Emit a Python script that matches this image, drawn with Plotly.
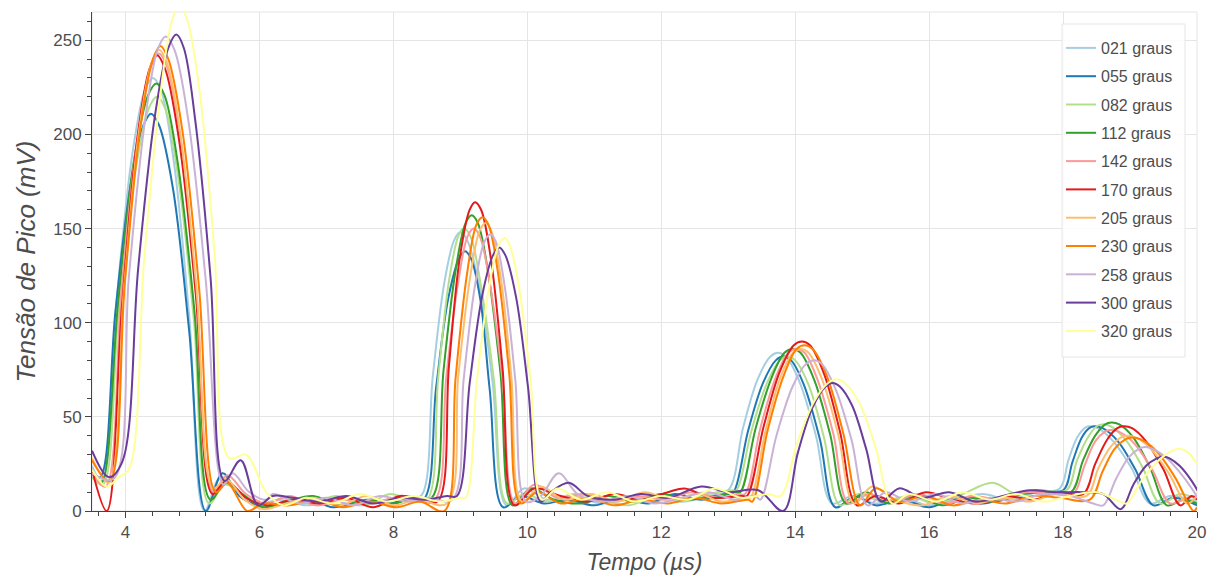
import plotly.graph_objects as go

# Peak voltage vs time, one trace per receiver angle
t_021 = [3.5, 3.64, 3.87, 4.10, 4.295, 4.41, 4.525, 4.72, 4.95, 5.18, 5.42, 5.7, 6.0, 6.3, 6.7, 7.1, 7.5, 7.9, 8.2,
         8.41, 8.59, 8.76, 8.91, 9.0, 9.10, 9.28, 9.48, 9.69, 9.95, 10.3, 10.7, 11.1, 11.5, 11.9, 12.3, 12.7,
         13.0, 13.22, 13.44, 13.63, 13.74, 13.86, 14.06, 14.31, 14.55, 14.85, 15.2, 15.6, 16.0, 16.4, 16.8, 17.2, 17.6,
         17.95, 18.08, 18.21, 18.32, 18.38, 18.52, 18.75, 19.02, 19.3, 19.6, 20.0]
v_021 = [24, 16, 113, 189, 224, 230, 224, 186, 104, 0, 18, 10, 4, 6, 3, 5, 3, 6, 8,
         8, 72, 121, 144, 148, 144, 120, 69, 3, 12, 6, 8, 4, 6, 8, 5, 8,
         11, 44, 70, 82, 84, 82, 69, 40, 4, 8, 4, 7, 3, 6, 9, 6, 10,
         12, 27, 39, 44, 45, 44, 37, 23, 4, 8, 5]

t_055 = [3.5, 3.62, 3.85, 4.08, 4.27, 4.38, 4.50, 4.71, 4.95, 5.2, 5.45, 5.7, 6.0, 6.3, 6.7, 7.1, 7.5, 7.9, 8.2,
         8.45, 8.64, 8.82, 8.98, 9.07, 9.16, 9.30, 9.44, 9.64, 9.9, 10.25, 10.6, 11.0, 11.4, 11.8, 12.2, 12.6, 13.0,
         13.08, 13.30, 13.52, 13.71, 13.82, 13.94, 14.13, 14.37, 14.6, 14.9, 15.2, 15.6, 16.0, 16.4, 16.8, 17.2, 17.6,
         18.0, 18.14, 18.28, 18.39, 18.46, 18.59, 18.82, 19.08, 19.35, 19.65, 20.0]
v_055 = [20, 18, 106, 174, 205, 211, 205, 171, 96, 0, 20, 8, 3, 4, 7, 2, 5, 4, 6,
         6, 66, 113, 134, 138, 134, 112, 64, 2, 8, 4, 6, 3, 7, 4, 9, 6, 9,
         10, 43, 68, 80, 82, 80, 67, 38, 2, 8, 3, 6, 2, 7, 4, 8, 11,
         11, 26, 39, 44, 45, 44, 37, 22, 3, 7, 3]

t_082 = [3.5, 3.66, 3.90, 4.15, 4.35, 4.47, 4.59, 4.78, 5.02, 5.25, 5.48, 5.75, 6.05, 6.35, 6.75, 7.15, 7.55, 7.95, 8.25,
         8.5, 8.67, 8.83, 8.97, 9.05, 9.15, 9.31, 9.5, 9.7, 9.95, 10.3, 10.7, 11.1, 11.5, 11.9, 12.3, 12.7, 13.05,
         13.12, 13.35, 13.58, 13.77, 13.88, 14.0, 14.20, 14.43, 14.67, 14.95, 15.3, 15.7, 16.1, 16.5, 16.95, 17.3, 17.65,
         18.05, 18.21, 18.37, 18.5, 18.58, 18.71, 18.93, 19.19, 19.45, 19.75, 20.0]
v_082 = [18, 14, 108, 181, 214, 220, 214, 179, 102, 4, 14, 9, 3, 7, 4, 8, 3, 9, 6,
         6, 71, 122, 146, 150, 146, 119, 70, 4, 9, 5, 9, 6, 3, 7, 5, 9, 11,
         11, 43, 68, 80, 82, 80, 67, 39, 3, 9, 5, 8, 4, 9, 15, 9, 11,
         11, 27, 39, 45, 46, 45, 38, 23, 4, 9, 6]

t_112 = [3.5, 3.64, 3.89, 4.13, 4.34, 4.46, 4.58, 4.78, 5.03, 5.27, 5.5, 5.78, 6.05, 6.4, 6.8, 7.2, 7.6, 8.0, 8.3,
         8.57, 8.75, 8.93, 9.08, 9.17, 9.26, 9.41, 9.6, 9.78, 10.05, 10.4, 10.8, 11.2, 11.6, 12.0, 12.4, 12.8, 13.1,
         13.18, 13.41, 13.65, 13.84, 13.96, 14.08, 14.28, 14.52, 14.76, 15.05, 15.4, 15.8, 16.2, 16.6, 17.0, 17.4, 17.8,
         18.12, 18.30, 18.48, 18.63, 18.72, 18.84, 19.05, 19.30, 19.55, 19.8, 20.0]
v_112 = [22, 15, 111, 187, 221, 227, 221, 185, 106, 6, 15, 8, 2, 5, 8, 3, 6, 4, 7,
         7, 75, 128, 153, 157, 153, 128, 73, 3, 12, 6, 4, 8, 5, 9, 6, 8, 10,
         10, 44, 71, 84, 86, 84, 70, 41, 4, 10, 4, 8, 3, 7, 5, 9, 10,
         10, 27, 40, 46, 47, 46, 39, 23, 3, 6, 4]

t_142 = [3.5, 3.7, 3.94, 4.18, 4.38, 4.5, 4.62, 4.82, 5.06, 5.31, 5.52, 5.8, 6.1, 6.45, 6.85, 7.25, 7.65, 8.05, 8.35,
         8.62, 8.79, 8.97, 9.11, 9.2, 9.29, 9.45, 9.63, 9.82, 10.1, 10.45, 10.85, 11.25, 11.65, 12.05, 12.45, 12.85, 13.15,
         13.25, 13.48, 13.71, 13.9, 14.02, 14.14, 14.33, 14.57, 14.8, 15.1, 15.45, 15.85, 16.25, 16.65, 17.05, 17.45, 17.85,
         18.15, 18.32, 18.48, 18.62, 18.7, 18.84, 19.06, 19.33, 19.6, 19.85, 20.0]
v_142 = [20, 13, 117, 199, 236, 243, 236, 198, 116, 10, 19, 9, 4, 8, 3, 6, 4, 7, 5,
         6, 71, 122, 146, 150, 146, 119, 70, 4, 14, 7, 9, 5, 8, 6, 10, 7, 9,
         9, 44, 71, 84, 86, 84, 70, 41, 4, 9, 5, 9, 4, 8, 6, 10, 9,
         9, 24, 37, 42, 43, 42, 36, 22, 4, 7, 8]

t_170 = [3.5, 3.72, 3.95, 4.17, 4.36, 4.47, 4.59, 4.80, 5.05, 5.3, 5.5, 5.8, 6.1, 6.5, 6.9, 7.3, 7.7, 8.1, 8.4,
         8.66, 8.83, 8.99, 9.14, 9.22, 9.31, 9.46, 9.63, 9.81, 10.1, 10.5, 10.9, 11.3, 11.7, 12.1, 12.35, 12.75, 13.2,
         13.28, 13.53, 13.77, 13.98, 14.1, 14.22, 14.43, 14.67, 14.92, 15.2, 15.55, 15.95, 16.35, 16.75, 17.15, 17.55, 17.95,
         18.3, 18.48, 18.66, 18.81, 18.9, 19.03, 19.24, 19.5, 19.75, 19.92, 20.0]
v_170 = [22, 0, 110, 196, 235, 242, 235, 197, 115, 9, 16, 7, 3, 6, 4, 7, 2, 8, 6,
         5, 77, 134, 160, 164, 160, 133, 76, 3, 12, 8, 5, 9, 6, 10, 12, 7, 8,
         8, 45, 74, 88, 90, 88, 73, 42, 3, 8, 4, 10, 6, 4, 8, 6, 10,
         9, 25, 38, 44, 45, 44, 37, 22, 3, 8, 6]

t_205 = [3.5, 3.75, 3.98, 4.2, 4.39, 4.5, 4.62, 4.82, 5.06, 5.31, 5.5, 5.78, 6.05, 6.4, 6.8, 7.2, 7.6, 8.0, 8.35,
         8.8, 8.97, 9.15, 9.29, 9.38, 9.46, 9.6, 9.76, 9.92, 10.2, 10.55, 10.95, 11.35, 11.75, 12.15, 12.55, 12.9, 13.25,
         13.33, 13.56, 13.78, 13.97, 14.08, 14.2, 14.40, 14.64, 14.88, 15.15, 15.5, 15.9, 16.3, 16.7, 17.1, 17.5, 17.9,
         18.35, 18.53, 18.71, 18.86, 18.95, 19.09, 19.31, 19.58, 19.85, 20.0]
v_205 = [28, 15, 119, 201, 238, 245, 238, 200, 118, 12, 17, 6, 1, 4, 7, 3, 8, 3, 6,
         4, 72, 125, 149, 153, 149, 125, 72, 5, 13, 6, 9, 5, 10, 6, 9, 5, 7,
         7, 43, 71, 84, 86, 84, 70, 41, 4, 13, 6, 3, 8, 4, 7, 5, 9,
         8, 23, 34, 39, 40, 39, 33, 20, 4, 8]

t_230 = [3.5, 3.76, 3.99, 4.22, 4.41, 4.52, 4.64, 4.85, 5.1, 5.35, 5.52, 5.82, 6.05, 6.45, 6.85, 7.25, 7.65, 8.05, 8.4,
         8.76, 8.93, 9.1, 9.24, 9.33, 9.42, 9.56, 9.73, 9.9, 10.15, 10.5, 10.9, 11.3, 11.7, 12.1, 12.5, 12.9, 13.3,
         13.36, 13.59, 13.83, 14.02, 14.14, 14.26, 14.47, 14.72, 14.97, 15.2, 15.55, 15.95, 16.35, 16.75, 17.15, 17.55, 17.95,
         18.4, 18.59, 18.77, 18.93, 19.02, 19.16, 19.39, 19.67, 19.95, 20.0]
v_230 = [27, 16, 121, 203, 240, 247, 240, 202, 118, 10, 15, 0, 4, 3, 6, 2, 5, 2, 5,
         0, 71, 126, 152, 156, 152, 127, 73, 4, 10, 4, 7, 3, 6, 4, 7, 4, 6,
         5, 43, 72, 86, 88, 86, 72, 41, 3, 12, 5, 8, 3, 6, 4, 8, 7,
         6, 21, 33, 38, 39, 38, 32, 18, 0, 2]

t_258 = [3.5, 3.82, 4.05, 4.29, 4.48, 4.6, 4.73, 4.94, 5.2, 5.46, 5.6, 5.85, 6.1, 6.2, 6.6, 7.0, 7.4, 7.8, 8.2, 8.5,
         8.88, 9.05, 9.22, 9.36, 9.45, 9.53, 9.66, 9.82, 9.98, 10.2, 10.47, 10.75, 11.1, 11.5, 11.9, 12.3, 12.7, 13.1, 13.4,
         13.48, 13.72, 13.96, 14.16, 14.28, 14.4, 14.6, 14.84, 15.08, 15.35, 15.7, 16.1, 16.5, 16.9, 17.3, 17.7, 18.1, 18.45,
         18.6, 18.79, 18.97, 19.13, 19.22, 19.34, 19.55, 19.8, 20.05]
v_258 = [20, 17, 124, 207, 245, 252, 245, 207, 122, 14, 20, 10, 6, 9, 4, 7, 3, 8, 5, 7,
         6, 70, 120, 143, 147, 143, 120, 70, 5, 8, 20, 9, 5, 8, 4, 7, 10, 6, 8,
         6, 40, 66, 78, 80, 78, 65, 38, 3, 10, 5, 9, 4, 7, 5, 9, 8, 4,
         3, 17, 28, 33, 34, 33, 28, 18, 5]

t_300 = [3.5, 3.75, 3.95, 4.19, 4.44, 4.64, 4.76, 4.87, 5.04, 5.27, 5.48, 5.72, 5.98, 6.2, 6.5, 6.9, 7.3, 7.7, 8.1, 8.5, 8.8,
         8.95, 9.14, 9.33, 9.49, 9.58, 9.67, 9.83, 10.01, 10.2, 10.35, 10.62, 10.9, 11.3, 11.7, 12.1, 12.6, 13.0, 13.45,
         13.82, 14.04, 14.26, 14.45, 14.56, 14.67, 14.85, 15.06, 15.28, 15.55, 15.9, 16.3, 16.7, 17.1, 17.5, 17.9, 18.3, 18.6,
         18.86, 19.05, 19.24, 19.4, 19.5, 19.59, 19.74, 19.92, 20.1]
v_300 = [32, 18, 26, 129, 210, 246, 253, 246, 208, 124, 16, 27, 3, 8, 7, 5, 8, 4, 7, 6, 8,
         8, 68, 115, 136, 140, 136, 114, 66, 5, 10, 15, 8, 6, 9, 7, 13, 10, 11,
         0, 31, 55, 66, 68, 66, 56, 33, 5, 12, 7, 10, 5, 8, 11, 10, 10, 9,
         1, 14, 24, 28, 29, 28, 24, 16, 5]

t_320 = [3.5, 3.72, 3.9, 4.05, 4.28, 4.52, 4.7, 4.81, 4.92, 5.11, 5.33, 5.55, 5.8, 6.1, 6.35, 6.7, 7.1, 7.5, 7.9, 8.3, 8.7, 9.0,
         9.08, 9.25, 9.43, 9.57, 9.66, 9.74, 9.88, 10.05, 10.22, 10.45, 10.8, 11.2, 11.6, 12.0, 12.4, 12.8, 13.2, 13.6,
         13.78, 14.03, 14.28, 14.49, 14.62, 14.74, 14.95, 15.2, 15.45, 15.7, 16.1, 16.5, 16.9, 17.3, 17.7, 18.1, 18.5, 18.85,
         18.95, 19.19, 19.43, 19.63, 19.75, 19.87, 20.0]
v_320 = [22, 13, 18, 22, 134, 221, 261, 268, 261, 222, 137, 28, 30, 10, 3, 7, 4, 9, 5, 8, 5, 7,
         7, 70, 119, 141, 145, 141, 118, 69, 6, 12, 6, 10, 5, 8, 6, 12, 7, 9,
         8, 36, 58, 68, 70, 68, 58, 34, 4, 9, 5, 10, 6, 9, 5, 8, 10, 5,
         4, 17, 27, 32, 33, 31, 25]

angles = ["021", "055", "082", "112", "142", "170", "205", "230", "258", "300", "320"]
times = [t_021, t_055, t_082, t_112, t_142, t_170, t_205, t_230, t_258, t_300, t_320]
volts = [v_021, v_055, v_082, v_112, v_142, v_170, v_205, v_230, v_258, v_300, v_320]
palette = ["#a6cee3", "#1f78b4", "#b2df8a", "#33a02c", "#fb9a99", "#e31a1c",
           "#fdbf6f", "#ff7f00", "#cab2d6", "#6a3d9a", "#ffff99"]

FONT = "Liberation Sans, Arial, Helvetica, sans-serif"
INK = "#444444"
TXT = "#4d4d4d"
GRID = "#e5e5e5"

fig = go.Figure()
for ang, t, v, c in zip(angles, times, volts, palette):
    fig.add_trace(go.Scatter(
        x=t, y=v, mode="lines", name=f"{ang} graus", legendgroup=ang,
        line=dict(color=c, width=2, shape="spline", smoothing=1.0),
    ))

axis_common = dict(
    showline=True, linecolor=INK, linewidth=1,
    ticks="outside", ticklen=6, tickcolor=INK, tickwidth=1,
    showgrid=True, gridcolor=GRID, gridwidth=1,
    zeroline=False, automargin=False,
    tickfont=dict(family=FONT, size=17, color=TXT),
)

# legend frame, drawn as a paper-space box behind the legend entries
box_x0, box_x1 = (1062 - 92) / 1105, (1185 - 92) / 1105
box_y0, box_y1 = (511 - 357) / 499, (511 - 24) / 499

fig.update_layout(
    width=1215, height=576,
    margin=dict(l=92, r=18, t=12, b=65),
    paper_bgcolor="white", plot_bgcolor="white",
    font=dict(family=FONT, color=TXT),
    xaxis=dict(
        range=[3.5, 20], tick0=0, dtick=2,
        minor=dict(ticks="outside", ticklen=4, tickcolor=INK, dtick=0.4, tick0=0, showgrid=False),
        title=dict(text="Tempo (µs)", font=dict(family=FONT, size=23, color=TXT, style="italic"), standoff=12),
        **axis_common,
    ),
    yaxis=dict(
        range=[0, 265], tick0=0, dtick=50,
        minor=dict(ticks="outside", ticklen=4, tickcolor=INK, dtick=10, tick0=0, showgrid=False),
        title=dict(text="Tensão de Pico (mV)", font=dict(family=FONT, size=26, color=TXT, style="italic"), standoff=10),
        **axis_common,
    ),
    legend=dict(
        x=(1061 - 92) / 1105, y=(511 - 31) / 499, xanchor="left", yanchor="top",
        bgcolor="rgba(0,0,0,0)", borderwidth=0,
        font=dict(family=FONT, size=16, color=TXT),
        tracegroupgap=4.5, itemwidth=30,
    ),
    shapes=[
        dict(type="rect", xref="paper", yref="paper", x0=0, x1=1, y0=0, y1=1,
             line=dict(color=GRID, width=1), layer="below"),
        dict(type="rect", xref="paper", yref="paper", x0=box_x0, x1=box_x1, y0=box_y0, y1=box_y1,
             line=dict(color=GRID, width=1), fillcolor="rgba(255,255,255,0.85)", layer="above"),
    ],
    showlegend=True,
)

fig.write_html("out.html")
